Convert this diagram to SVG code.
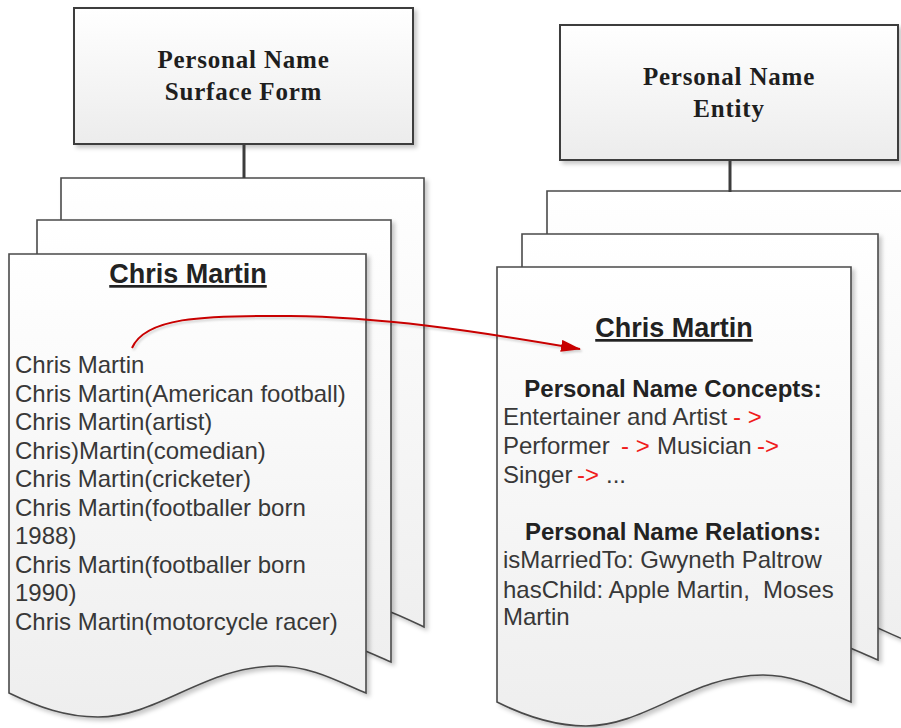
<svg xmlns="http://www.w3.org/2000/svg" width="901" height="728" viewBox="0 0 901 728">
  <defs>
    <linearGradient id="boxFill" x1="0" y1="0" x2="0" y2="1">
      <stop offset="0" stop-color="#ffffff"/>
      <stop offset="1" stop-color="#ececec"/>
    </linearGradient>
    <linearGradient id="pageFill" x1="0" y1="0" x2="0" y2="1">
      <stop offset="0" stop-color="#ffffff"/>
      <stop offset="1" stop-color="#eeeeee"/>
    </linearGradient>
    <filter id="shadow" x="-5%" y="-5%" width="115%" height="115%">
      <feDropShadow dx="3" dy="3" stdDeviation="2" flood-color="#000" flood-opacity="0.22"/>
    </filter>
    <filter id="lineShadow" x="-5%" y="-50%" width="110%" height="200%">
      <feDropShadow dx="1.5" dy="2" stdDeviation="1" flood-color="#000" flood-opacity="0.18"/>
    </filter>
    <marker id="redArrow" viewBox="0 0 20 12" refX="19" refY="6" markerWidth="20" markerHeight="12" markerUnits="userSpaceOnUse" orient="auto">
      <path d="M0,0 L20,6 L0,12 Z" fill="#c80000"/>
    </marker>
  </defs>
  <style>
    .box { fill: url(#boxFill); stroke: #3c3c3c; stroke-width: 2; filter: url(#shadow); }
    .page { fill: url(#pageFill); stroke: #4a4a4a; stroke-width: 1.6; filter: url(#shadow); }
    .link { stroke: #3c3c3c; stroke-width: 3; fill: none; }
    .boxText { font-family: "Liberation Serif", "Times New Roman", serif; font-weight: bold; font-size: 25px; letter-spacing: 0.8px; fill: #1e1e1e; text-anchor: middle; }
    .title { font-family: "Liberation Sans", Arial, sans-serif; font-weight: bold; font-size: 27px; fill: #222; text-anchor: middle; text-decoration: underline; }
    .body { font-family: "Liberation Sans", Arial, sans-serif; font-size: 24px; fill: #383838; }
    .head { font-family: "Liberation Sans", Arial, sans-serif; font-weight: bold; font-size: 24px; fill: #222; text-anchor: middle; }
    .red { fill: #f01c1c; }
  </style>

  <!-- surface form header -->
  <g id="surface-form">
    <rect class="box" x="74" y="8" width="339" height="136"/>
    <text class="boxText" x="243.5" y="68">Personal Name</text>
    <text class="boxText" x="243.5" y="100">Surface Form</text>
  </g>

  <!-- entity header -->
  <g id="entity">
    <rect class="box" x="560" y="25" width="338" height="135"/>
    <text class="boxText" x="729" y="85">Personal Name</text>
    <text class="boxText" x="729" y="117">Entity</text>
  </g>

  <!-- stacked pages, surface forms -->
  <g id="surface-pages">
    <path class="page" d="M61,627 C90,641 119,651 152,651 C213,651 261,600 333,600 C369,600 399,615 424,627 V178 H61 Z"/>
    <path class="page" d="M37,662 C65,676 94,686 126,686 C186,686 232,635 302,635 C338,635 366,652 391,662 V220 H37 Z"/>
    <path class="page" d="M9,693 C38,707 66,717 98,717 C159,717 205,666 277,666 C312,666 341,683 366,693 V254 H9 Z"/>
  </g>

  <!-- stacked pages, entities -->
  <g id="entity-pages">
    <path class="page" d="M547,640 C576,654 605,664 637,664 C699,664 746,613 816,613 C853,613 880,630 905,640 V191 H547 Z"/>
    <path class="page" d="M522,660 C550,674 579,684 611,684 C671,684 718,633 789,633 C825,633 853,650 878,660 V234 H522 Z"/>
    <path class="page" d="M497,702 C525,716 554,726 586,726 C646,726 692,675 763,675 C798,675 826,692 851,702 V267 H497 Z"/>
  </g>

  <!-- surface form list -->
  <g id="surface-list">
    <text class="title" x="188" y="283">Chris Martin</text>
    <text class="body" x="15" y="373">Chris Martin</text>
    <text class="body" x="15" y="402">Chris Martin(American football)</text>
    <text class="body" x="15" y="430">Chris Martin(artist)</text>
    <text class="body" x="15" y="459">Chris)Martin(comedian)</text>
    <text class="body" x="15" y="487">Chris Martin(cricketer)</text>
    <text class="body" x="15" y="516">Chris Martin(footballer born</text>
    <text class="body" x="15" y="544">1988)</text>
    <text class="body" x="15" y="573">Chris Martin(footballer born</text>
    <text class="body" x="15" y="601">1990)</text>
    <text class="body" x="15" y="630">Chris Martin(motorcycle racer)</text>
  </g>

  <!-- entity description -->
  <g id="entity-detail">
    <text class="title" x="674" y="337">Chris Martin</text>
    <text class="head" x="673" y="397">Personal Name Concepts:</text>
    <text class="body" y="425"><tspan x="503">Entertainer and Artist</tspan><tspan class="red" x="733">- &gt;</tspan></text>
    <text class="body" y="454"><tspan x="503">Performer</tspan><tspan class="red" x="621">- &gt;</tspan><tspan x="657">Musician</tspan><tspan class="red" x="757">-&gt;</tspan></text>
    <text class="body" y="483"><tspan x="503">Singer</tspan><tspan class="red" x="577">-&gt;</tspan><tspan x="606">...</tspan></text>
    <text class="head" x="673" y="540">Personal Name Relations:</text>
    <text class="body" x="503" y="568">isMarriedTo: Gwyneth Paltrow</text>
    <text class="body" y="598"><tspan x="503">hasChild: Apple Martin,</tspan><tspan x="763">Moses</tspan></text>
    <text class="body" x="503" y="625">Martin</text>
  </g>

  <!-- connectors -->
  <g id="connectors">
    <line class="link" x1="244" y1="144" x2="244" y2="178"/>
    <line class="link" x1="730" y1="160" x2="730" y2="192"/>
    <path d="M132,348 C145,318 200,315 290,316 C380,317 470,330 580,349" fill="none" stroke="#c80000" stroke-width="2" marker-end="url(#redArrow)" filter="url(#lineShadow)"/>
  </g>
</svg>
